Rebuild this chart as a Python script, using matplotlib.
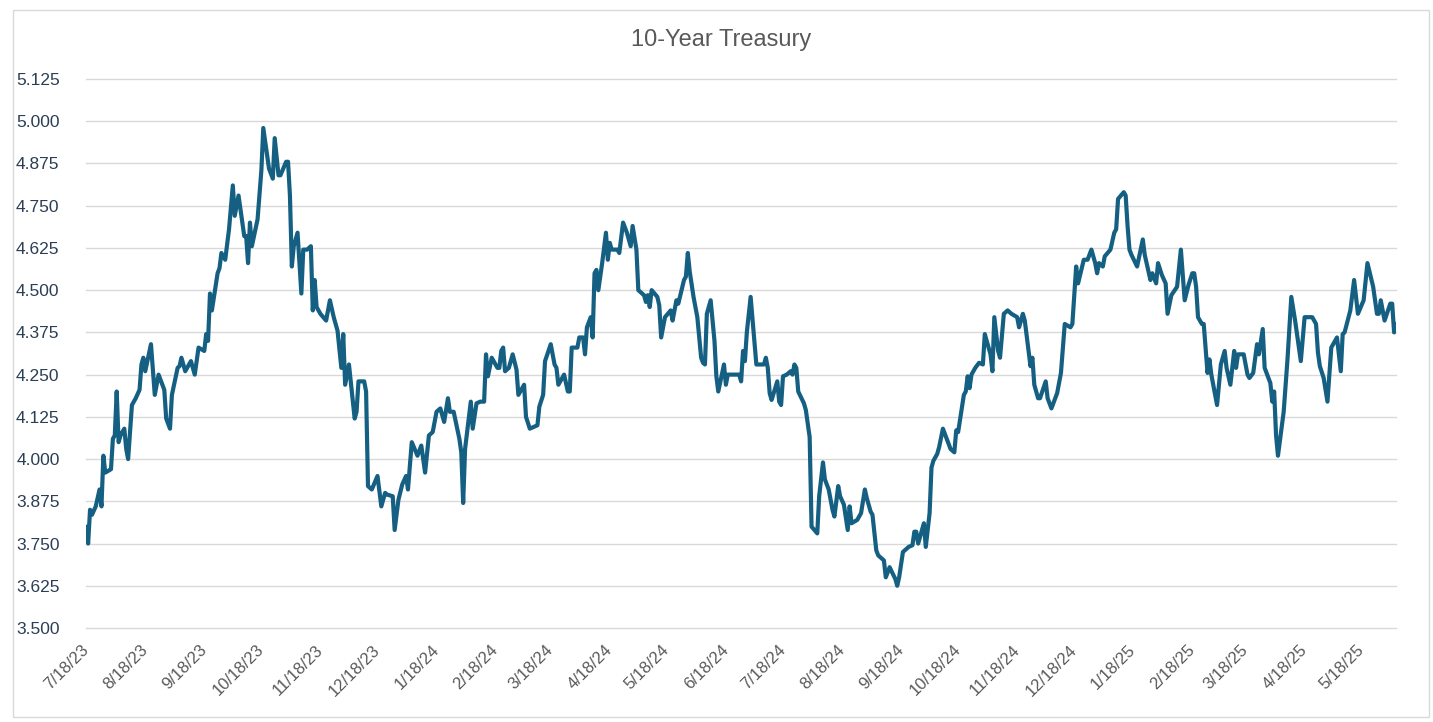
#!/usr/bin/env python3
"""10-Year Treasury yield, Jul 2023 - Jun 2025, Excel-style line chart."""

import matplotlib
matplotlib.use("Agg")
import matplotlib.pyplot as plt
import pandas as pd
from matplotlib.patches import Rectangle
from matplotlib.ticker import FuncFormatter, FixedLocator

TITLE = "10-Year Treasury"
START = "2023-07-18"

# days after START at which the line turns
DAY_OFFSET = [
    0, 1, 2, 3, 5, 7, 8, 9, 10, 13, 14, 15, 16, 17, 18, 20, 21, 22, 24, 26,
    28, 29, 30, 31, 34, 36, 38, 41, 42, 44, 45, 48, 49, 50, 52, 55, 57, 59, 62, 63,
    64, 65, 66, 69, 70, 71, 73, 75, 77, 78, 80, 83, 84, 85, 86, 87, 90, 92, 93, 95,
    96, 98, 99, 101, 102, 105, 106, 107, 108, 109, 111, 113, 114, 116, 118, 119, 120, 121, 123, 126,
    128, 130, 132, 134, 135, 136, 138, 141, 142, 143, 146, 147, 148, 150, 153, 155, 157, 158, 161, 162,
    164, 166, 168, 169, 171, 174, 176, 178, 180, 182, 184, 186, 188, 190, 191, 193, 196, 197, 198, 199,
    202, 203, 205, 207, 209, 210, 211, 213, 216, 217, 218, 219, 220, 222, 224, 226, 227, 230, 231, 233,
    237, 238, 240, 241, 244, 246, 247, 248, 251, 253, 254, 255, 258, 259, 261, 262, 263, 265, 266, 267,
    268, 269, 271, 273, 274, 275, 276, 279, 280, 282, 284, 286, 287, 289, 290, 293, 294, 295, 296, 297,
    300, 301, 302, 303, 304, 307, 308, 310, 311, 314, 315, 316, 317, 319, 321, 323, 324, 325, 326, 328,
    330, 331, 332, 335, 336, 337, 343, 344, 345, 346, 347, 349, 352, 356, 357, 358, 359, 360, 363, 364,
    365, 366, 368, 370, 371, 372, 373, 374, 377, 378, 380, 381, 384, 385, 387, 388, 390, 392, 393, 395,
    396, 398, 400, 401, 402, 405, 407, 409, 410, 412, 413, 415, 416, 419, 420, 422, 425, 426, 427, 429,
    430, 432, 434, 435, 436, 437, 440, 441, 443, 444, 445, 447, 448, 450, 452, 454, 456, 457, 458, 461,
    462, 463, 464, 465, 467, 469, 471, 472, 475, 476, 477, 479, 480, 482, 484, 486, 489, 490, 492, 493,
    496, 497, 498, 500, 501, 504, 505, 507, 510, 512, 514, 517, 518, 520, 521, 524, 526, 528, 530, 531,
    532, 534, 535, 538, 540, 541, 542, 545, 546, 547, 548, 549, 552, 555, 556, 559, 560, 562, 563, 565,
    567, 568, 570, 573, 575, 577, 579, 581, 582, 583, 584, 586, 587, 589, 590, 591, 594, 596, 598, 599,
    601, 603, 604, 605, 608, 610, 611, 613, 615, 616, 618, 619, 622, 623, 624, 625, 626, 629, 631, 633,
    635, 638, 640, 644, 646, 647, 648, 650, 652, 654, 657, 659, 660, 661, 664, 666, 668, 671, 673, 676,
    678, 679, 680, 682, 685, 686, 687, 688,
]

YIELD = [
    3.80, 3.75, 3.85, 3.835, 3.86, 3.91, 3.86, 4.01, 3.96, 3.97, 4.06, 4.07, 4.20, 4.05, 4.07, 4.09, 4.03, 4.00, 4.16, 4.18,
    4.205, 4.28, 4.30, 4.26, 4.34, 4.19, 4.25, 4.205, 4.12, 4.09, 4.19, 4.27, 4.275, 4.30, 4.26, 4.29, 4.25, 4.33, 4.32, 4.37,
    4.35, 4.49, 4.44, 4.55, 4.565, 4.61, 4.59, 4.68, 4.81, 4.72, 4.78, 4.66, 4.66, 4.58, 4.70, 4.63, 4.71, 4.855, 4.98, 4.90,
    4.86, 4.83, 4.95, 4.84, 4.84, 4.88, 4.88, 4.78, 4.57, 4.63, 4.67, 4.49, 4.62, 4.62, 4.63, 4.44, 4.53, 4.45, 4.43, 4.41,
    4.47, 4.42, 4.38, 4.27, 4.37, 4.22, 4.28, 4.12, 4.14, 4.23, 4.23, 4.20, 3.92, 3.91, 3.95, 3.86, 3.90, 3.895, 3.89, 3.79,
    3.88, 3.925, 3.95, 3.91, 4.05, 4.01, 4.04, 3.96, 4.07, 4.08, 4.14, 4.15, 4.11, 4.18, 4.14, 4.14, 4.06, 4.02, 3.87, 4.03,
    4.17, 4.09, 4.165, 4.17, 4.17, 4.31, 4.245, 4.30, 4.27, 4.27, 4.32, 4.33, 4.26, 4.27, 4.31, 4.265, 4.19, 4.22, 4.125, 4.09,
    4.10, 4.155, 4.19, 4.29, 4.34, 4.28, 4.27, 4.22, 4.25, 4.20, 4.20, 4.33, 4.33, 4.36, 4.36, 4.31, 4.39, 4.42, 4.36, 4.55,
    4.56, 4.50, 4.58, 4.67, 4.59, 4.64, 4.62, 4.62, 4.61, 4.70, 4.67, 4.63, 4.69, 4.62, 4.50, 4.485, 4.465, 4.485, 4.45, 4.50,
    4.48, 4.455, 4.36, 4.39, 4.42, 4.44, 4.41, 4.47, 4.46, 4.53, 4.54, 4.61, 4.555, 4.48, 4.42, 4.30, 4.285, 4.28, 4.43, 4.47,
    4.35, 4.245, 4.20, 4.28, 4.22, 4.25, 4.25, 4.23, 4.32, 4.29, 4.375, 4.48, 4.28, 4.28, 4.30, 4.27, 4.195, 4.175, 4.23, 4.17,
    4.16, 4.245, 4.25, 4.26, 4.25, 4.28, 4.27, 4.20, 4.165, 4.145, 4.065, 3.80, 3.78, 3.89, 3.99, 3.94, 3.91, 3.85, 3.83, 3.92,
    3.89, 3.865, 3.79, 3.86, 3.81, 3.82, 3.84, 3.91, 3.885, 3.845, 3.835, 3.73, 3.715, 3.70, 3.65, 3.68, 3.645, 3.625, 3.65, 3.725,
    3.73, 3.74, 3.745, 3.785, 3.785, 3.75, 3.81, 3.74, 3.84, 3.975, 3.995, 4.015, 4.035, 4.09, 4.06, 4.03, 4.02, 4.085, 4.08, 4.19,
    4.20, 4.245, 4.21, 4.25, 4.27, 4.285, 4.28, 4.37, 4.31, 4.26, 4.42, 4.32, 4.30, 4.43, 4.44, 4.43, 4.42, 4.39, 4.43, 4.41,
    4.275, 4.30, 4.22, 4.18, 4.18, 4.23, 4.18, 4.15, 4.195, 4.255, 4.40, 4.39, 4.40, 4.57, 4.52, 4.59, 4.59, 4.62, 4.58, 4.55,
    4.58, 4.57, 4.60, 4.62, 4.67, 4.68, 4.77, 4.79, 4.78, 4.69, 4.62, 4.605, 4.57, 4.65, 4.605, 4.53, 4.55, 4.52, 4.58, 4.545,
    4.52, 4.43, 4.485, 4.51, 4.62, 4.47, 4.515, 4.55, 4.55, 4.51, 4.42, 4.40, 4.40, 4.255, 4.295, 4.25, 4.16, 4.28, 4.32, 4.27,
    4.22, 4.32, 4.27, 4.31, 4.31, 4.25, 4.24, 4.255, 4.34, 4.31, 4.385, 4.27, 4.225, 4.17, 4.20, 4.07, 4.01, 4.14, 4.295, 4.48,
    4.41, 4.29, 4.42, 4.42, 4.40, 4.315, 4.275, 4.24, 4.17, 4.33, 4.36, 4.26, 4.37, 4.375, 4.44, 4.53, 4.43, 4.47, 4.58, 4.51,
    4.43, 4.43, 4.47, 4.41, 4.46, 4.46, 4.375, 4.40,
]

X_TICKS = [
    "2023-07-18", "2023-08-18", "2023-09-18", "2023-10-18", "2023-11-18", "2023-12-18",
    "2024-01-18", "2024-02-18", "2024-03-18", "2024-04-18", "2024-05-18", "2024-06-18",
    "2024-07-18", "2024-08-18", "2024-09-18", "2024-10-18", "2024-11-18", "2024-12-18",
    "2025-01-18", "2025-02-18", "2025-03-18", "2025-04-18", "2025-05-18",
]
Y_TICKS = [3.5, 3.625, 3.75, 3.875, 4.0, 4.125, 4.25, 4.375, 4.5, 4.625, 4.75, 4.875, 5.0, 5.125]

LINE_COLOR = "#156082"
GRID_COLOR = "#D9D9D9"
TEXT_GRAY = "#595959"

W, H = 1433, 722

plt.rcParams["font.family"] = ["Liberation Sans", "DejaVu Sans"]

dates = pd.Timestamp(START) + pd.to_timedelta(DAY_OFFSET, unit="D")
ticks = pd.to_datetime(X_TICKS)

fig = plt.figure(figsize=(W / 100, H / 100), dpi=100)
fig.patches.append(
    Rectangle((13 / W, 5 / H), 1416 / W, 707 / H, transform=fig.transFigure,
              fill=False, edgecolor=GRID_COLOR, linewidth=1)
)
fig.text(721 / W, 1 - 40 / H, TITLE, ha="center", va="center",
         fontsize=17, color=TEXT_GRAY)

ax = fig.add_axes([86 / W, 94 / H, 1310 / W, 549 / H])

# gridlines drawn as plain lines so the 3.500 one at the edge is not lost
for val in Y_TICKS:
    ax.axhline(val, color=GRID_COLOR, linewidth=1, zorder=1, clip_on=False)

ax.plot(dates, YIELD, color=LINE_COLOR, linewidth=3.0,
        solid_joinstyle="round", solid_capstyle="round", zorder=3)

ax.set_xlim(dates[0] - pd.Timedelta(hours=3), dates[-1])
ax.set_ylim(Y_TICKS[0], Y_TICKS[-1])
ax.yaxis.set_major_locator(FixedLocator(Y_TICKS))
ax.yaxis.set_major_formatter(FuncFormatter(lambda v, _: f"{v:.3f}"))

ax.set_xticks(ticks)
ax.set_xticklabels([f"{d.month}/{d.day}/{d:%y}" for d in ticks])

for side in ax.spines.values():
    side.set_visible(False)

ax.tick_params(axis="both", length=0)
ax.tick_params(axis="y", pad=19, labelsize=12.5, labelcolor="#2B3E55")
ax.tick_params(axis="x", pad=14, labelsize=12, labelcolor=TEXT_GRAY)
for lbl in ax.get_xticklabels():
    lbl.set_rotation(45)
    lbl.set_ha("right")
    lbl.set_va("center")
    lbl.set_rotation_mode("anchor")

fig.savefig("out.png", dpi=100)
